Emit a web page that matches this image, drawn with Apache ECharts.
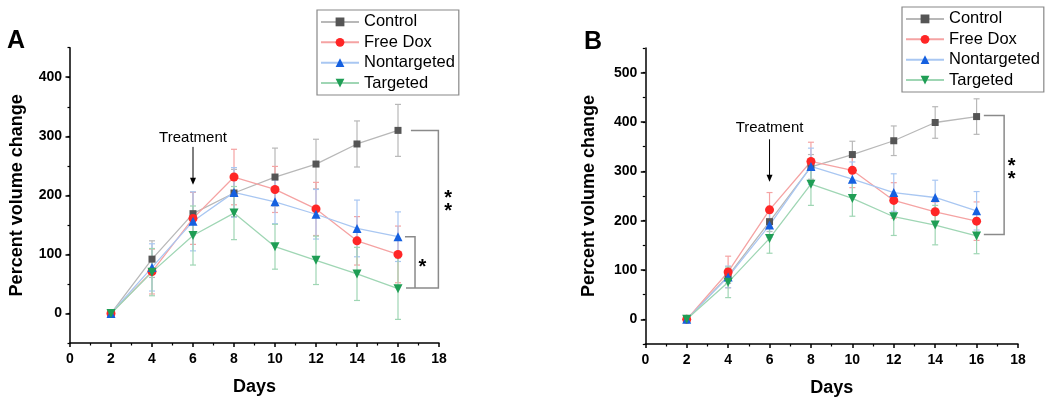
<!DOCTYPE html>
<html>
<head>
<meta charset="utf-8">
<script src="https://cdn.jsdelivr.net/npm/echarts@6/dist/echarts.min.js"></script>
<style>
  html, body { margin: 0; padding: 0; background: #fff; }
  #chart { width: 1050px; height: 402px; }
</style>
</head>
<body>
<div id="chart"></div>
<script>
// ---------- data ----------
const days = [2, 4, 6, 8, 10, 12, 14, 16];
const seriesNames = ['Control', 'Free Dox', 'Nontargeted', 'Targeted'];

// Panel A
const controlA      = [0, 92, 169, 204, 231, 253, 287, 310];
const freeDoxA      = [0, 71, 161, 231, 210, 177, 123, 100];
const nontargetedA  = [0, 78, 156, 205, 189, 168, 144, 130];
const targetedA     = [0, 70, 132, 170, 113, 90, 67, 42];
const controlErrA     = [3, 31, 36, 40, 49, 42, 39, 44];
const freeDoxErrA     = [3, 38, 44, 47, 39, 45, 41, 48];
const nontargetedErrA = [4, 40, 50, 42, 37, 42, 48, 42];
const targetedErrA    = [3, 40, 50, 45, 38, 41, 45, 52];

// Panel B
const controlB      = [0, 88, 198, 309, 334, 362, 399, 411];
const freeDoxB      = [0, 96, 222, 320, 302, 241, 218, 199];
const nontargetedB  = [0, 86, 191, 310, 284, 257, 247, 220];
const targetedB     = [0, 75, 164, 274, 245, 208, 191, 169];
const controlErrB     = [3, 15, 20, 25, 27, 30, 32, 36];
const freeDoxErrB     = [3, 32, 35, 39, 35, 36, 20, 39];
const nontargetedErrB = [4, 22, 25, 37, 35, 38, 35, 39];
const targetedErrB    = [3, 31, 30, 43, 36, 38, 40, 36];

// axis ticks
const xTicks = [0, 2, 4, 6, 8, 10, 12, 14, 16, 18];
const yTicksA = [0, 100, 200, 300, 400];
const yTicksB = [0, 100, 200, 300, 400, 500];

// annotations (data coordinates)
const treatmentA = { day: 6, text: 298, arrowFrom: 282, arrowTo: 218 };
const treatmentB = { day: 6, text: 388, arrowFrom: 365, arrowTo: 279 };
const bracketsA = [
  [[16.63, 310], [17.97, 310], [17.97, 43], [16.39, 43]],
  [[16.34, 130], [16.83, 130], [16.83, 43]]
];
const bracketsB = [
  [[16.35, 413], [17.33, 413], [17.33, 172], [16.35, 172]]
];
const starsA = [{ x: 17.19, y: 78, text: '*' }, { x: 18.45, y: 184, text: '*\n*' }];
const starsB = [{ x: 17.69, y: 296, text: '*\n*' }];

// ---------- styles ----------
const markerColors = ['#555555', '#ff2626', '#1560e0', '#1f9e55'];
const lineColors   = ['#b8b8b8', '#f5a3a3', '#a9c7f2', '#9fd6b4'];
const symbols = ['rect', 'circle', 'triangle', 'path://M0,0 L10,0 L5,9 Z'];
const symbolSizes = [7, 9, 9, 9];

const panels = [
  { vals: [controlA, freeDoxA, nontargetedA, targetedA],
    errs: [controlErrA, freeDoxErrA, nontargetedErrA, targetedErrA],
    treat: treatmentA, brackets: bracketsA, stars: starsA },
  { vals: [controlB, freeDoxB, nontargetedB, targetedB],
    errs: [controlErrB, freeDoxErrB, nontargetedErrB, targetedErrB],
    treat: treatmentB, brackets: bracketsB, stars: starsB }
];

const FONT = 'Liberation Sans, Arial, sans-serif';

function xAxisFor(gi) {
  return {
    type: 'value', gridIndex: gi, min: 0, max: 18, interval: 2,
    name: 'Days', nameLocation: 'middle', nameGap: 35,
    nameTextStyle: { fontFamily: FONT, fontWeight: 'bold', fontSize: 18, color: '#000' },
    axisLine: { show: true, onZero: false, lineStyle: { color: '#000', width: 1.5 } },
    axisTick: { show: true, length: 4, lineStyle: { color: '#000', width: 1.5 } },
    minorTick: { show: true, splitNumber: 2, length: 2.5, lineStyle: { color: '#000', width: 1.2 } },
    axisLabel: { fontFamily: FONT, fontWeight: 'bold', fontSize: 14, color: '#000', margin: 9 },
    splitLine: { show: false }, minorSplitLine: { show: false }
  };
}
function yAxisMajor(gi, max, ticks, gap) {
  return {
    type: 'value', gridIndex: gi, min: -50, max: max, interval: 50,
    name: 'Percent volume change', nameLocation: 'middle', nameGap: gap,
    nameTextStyle: { fontFamily: FONT, fontWeight: 'bold', fontSize: 18, color: '#000' },
    axisLine: { show: true, onZero: false, lineStyle: { color: '#000', width: 1.5 } },
    axisTick: { show: true, length: 4.5, customValues: ticks, lineStyle: { color: '#000', width: 1.5 } },
    axisLabel: { customValues: ticks, fontFamily: FONT, fontWeight: 'bold', fontSize: 14, color: '#000', margin: 8 },
    splitLine: { show: false }
  };
}
function yAxisMinor(gi, max) {
  return {
    type: 'value', gridIndex: gi, min: -50, max: max, interval: 50, position: 'left',
    axisLine: { show: false },
    axisTick: { show: true, length: 2.5, lineStyle: { color: '#000', width: 1.2 } },
    axisLabel: { show: false },
    splitLine: { show: false }
  };
}

const series = [];
panels.forEach((p, pi) => {
  const yIdx = pi * 2;
  // error bars
  p.vals.forEach((vals, si) => {
    series.push({
      type: 'custom', xAxisIndex: pi, yAxisIndex: yIdx, z: 2, silent: true,
      data: days.map((d, k) => [d, vals[k], p.errs[si][k]]),
      encode: { x: 0, y: 1 },
      renderItem: function (params, api) {
        const x = api.value(0), y = api.value(1), e = api.value(2);
        const top = api.coord([x, y + e]);
        const bot = api.coord([x, y - e]);
        const cw = 3;
        const st = { stroke: lineColors[si], lineWidth: 1.2 };
        return { type: 'group', children: [
          { type: 'line', shape: { x1: top[0], y1: top[1], x2: bot[0], y2: bot[1] }, style: st },
          { type: 'line', shape: { x1: top[0] - cw, y1: top[1], x2: top[0] + cw, y2: top[1] }, style: st },
          { type: 'line', shape: { x1: bot[0] - cw, y1: bot[1], x2: bot[0] + cw, y2: bot[1] }, style: st }
        ]};
      }
    });
  });
  // lines with markers
  p.vals.forEach((vals, si) => {
    series.push({
      type: 'line', name: seriesNames[si], xAxisIndex: pi, yAxisIndex: yIdx, z: 3,
      data: days.map((d, k) => [d, vals[k]]),
      symbol: symbols[si], symbolSize: symbolSizes[si], showAllSymbol: true,
      lineStyle: { color: lineColors[si], width: 1.3 },
      itemStyle: { color: markerColors[si], borderColor: markerColors[si], borderWidth: 0 },
      emphasis: { disabled: true }, animation: false
    });
  });
  // brackets
  series.push({
    type: 'custom', xAxisIndex: pi, yAxisIndex: yIdx, z: 4, silent: true, clip: false,
    data: p.brackets.map((b, i) => [i]),
    renderItem: function (params, api) {
      const b = p.brackets[api.value(0)];
      return { type: 'polyline', shape: { points: b.map(pt => api.coord(pt)) },
               style: { stroke: '#8a8a8a', lineWidth: 1.5, fill: null } };
    }
  });
  // stars
  series.push({
    type: 'custom', xAxisIndex: pi, yAxisIndex: yIdx, z: 4, silent: true, clip: false,
    data: p.stars.map(s => [s.x, s.y]),
    renderItem: function (params, api) {
      const s = p.stars[params.dataIndex];
      const c = api.coord([s.x, s.y]);
      return { type: 'text', x: c[0], y: c[1],
               style: { text: s.text, fontFamily: FONT, fontWeight: 'bold', fontSize: 20, lineHeight: 13.3,
                        fill: '#000', align: 'center', verticalAlign: 'middle' } };
    }
  });
  // treatment arrow
  series.push({
    type: 'custom', xAxisIndex: pi, yAxisIndex: yIdx, z: 4, silent: true, clip: false,
    data: [[p.treat.day, p.treat.text]],
    renderItem: function (params, api) {
      const t = p.treat;
      const tp = api.coord([t.day, t.text]);
      const a1 = api.coord([t.day, t.arrowFrom]);
      const a2 = api.coord([t.day, t.arrowTo]);
      return { type: 'group', children: [
        { type: 'text', x: tp[0], y: tp[1],
          style: { text: 'Treatment', fontFamily: FONT, fontSize: 15, fill: '#000',
                   align: 'center', verticalAlign: 'middle' } },
        { type: 'line', shape: { x1: a1[0], y1: a1[1], x2: a2[0], y2: a2[1] - 6 },
          style: { stroke: '#000', lineWidth: 1 } },
        { type: 'polygon', shape: { points: [[a2[0] - 3, a2[1] - 7], [a2[0] + 3, a2[1] - 7], [a2[0], a2[1]]] },
          style: { fill: '#000' } }
      ]};
    }
  });
});

const legendCommon = {
  data: seriesNames, orient: 'vertical', itemWidth: 38, itemHeight: 11, itemGap: 3.4,
  padding: [3.4, 4, 3.4, 3], borderColor: '#888', borderWidth: 1.2,
  textStyle: { fontFamily: FONT, fontSize: 16.5, lineHeight: 17, color: '#000' },
  selectedMode: false
};

const option = {
  animation: false,
  backgroundColor: '#fff',
  title: [
    { text: 'A', left: 7, top: 29, padding: 0,
      textStyle: { fontFamily: FONT, fontWeight: 'bold', fontSize: 25, color: '#000' } },
    { text: 'B', left: 584, top: 30, padding: 0,
      textStyle: { fontFamily: FONT, fontWeight: 'bold', fontSize: 25, color: '#000' } }
  ],
  legend: [
    Object.assign({ left: 317, top: 10 }, legendCommon),
    Object.assign({ left: 902, top: 7 }, legendCommon)
  ],
  grid: [
    { left: 70, width: 369, top: 47.7, height: 295.3, containLabel: false },
    { left: 645.3, width: 372.7, top: 48, height: 296.7, containLabel: false }
  ],
  xAxis: [xAxisFor(0), xAxisFor(1)],
  yAxis: [
    yAxisMajor(0, 450, yTicksA, 44), yAxisMinor(0, 450),
    yAxisMajor(1, 550, yTicksB, 47), yAxisMinor(1, 550)
  ],
  series: series
};

const chart = echarts.init(document.getElementById('chart'), null, { renderer: 'canvas' });
chart.setOption(option);
</script>
</body>
</html>
